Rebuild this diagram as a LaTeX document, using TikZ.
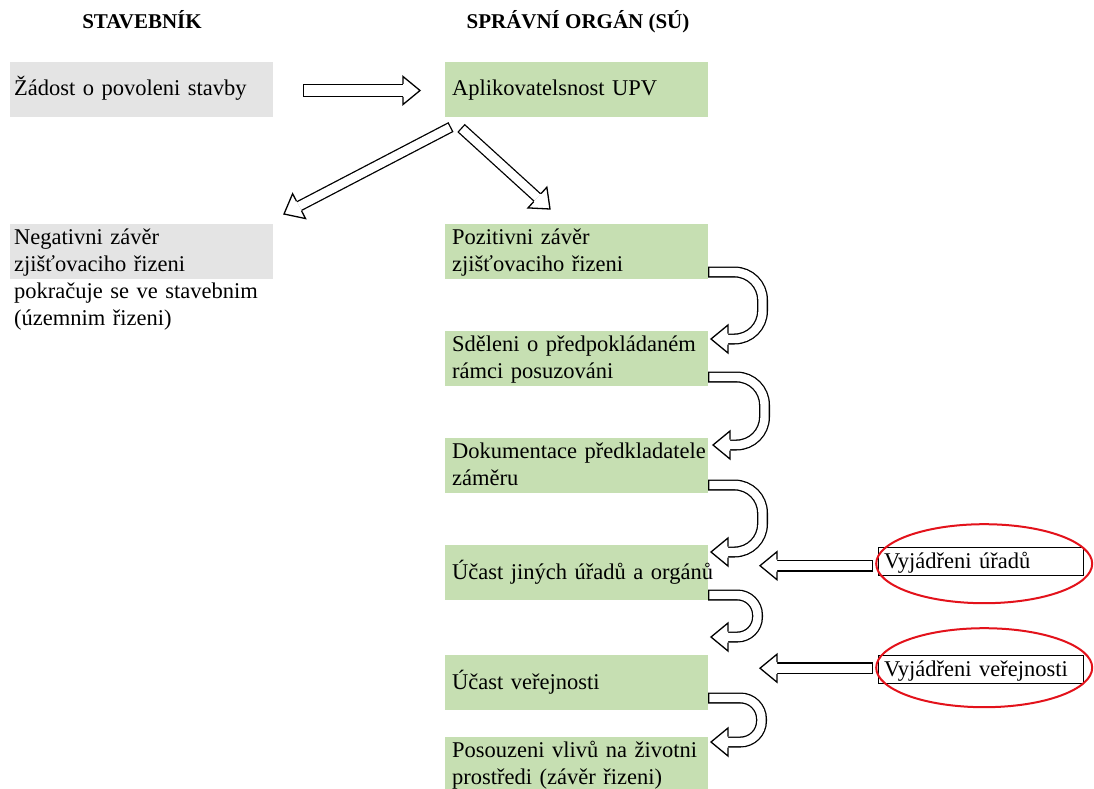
\documentclass[tikz,border=0pt]{standalone}
\usepackage{fontspec}
\setmainfont{Liberation Serif}
\usetikzlibrary{calc,shapes.geometric}

\definecolor{boxgray}{HTML}{E4E4E4}
\definecolor{boxgreen}{HTML}{C6DFB2}
\definecolor{ringred}{HTML}{E3121B}

% block arrow geometry (pt)
\newcommand\hlen{17}
\newcommand\hhw{14}

% head of a block arrow: #2 a point behind the head, #3 the tip
\newcommand\blockhead[3][5.5]{%
  \path ($(#3)!\hlen pt!(#2)$) coordinate (hb);
  \path ($(hb)!\hhw pt!90:(#3)$) coordinate (h1)
        ($(hb)!\hhw pt!-90:(#3)$) coordinate (h2)
        ($(hb)!#1pt!90:(#3)$) coordinate (s1)
        ($(hb)!#1pt!-90:(#3)$) coordinate (s2);
  \fill[white] (h1) -- (#3) -- (h2) -- cycle;
  \draw[outline] (s1) -- (h1) -- (#3) -- (h2) -- (s2);
}

% straight block arrow from #2 to #3, optional half shaft width #1
\newcommand\straightarrow[3][5.5]{%
  \path ($(#3)!\hlen pt!(#2)$) coordinate (se);
  \draw[outline, line width=2*#1pt, line cap=butt] (#2) -- (se);
  \draw[white, line width=2*#1pt-2.6pt, shorten <=1.3pt] (#2) -- (se);
  \blockhead[#1]{#2}{#3}
}

% U-turn block arrow: start #1, tip #2, turning line x from #3, corner radius #4
\newcommand\uturn[4]{%
  \coordinate (ue) at ($(#2)+(\hlen,0)$);
  \draw[outline, line width=11pt, rounded corners=#4]
    (#1) -- (#1 -| #3) -- (#2 -| #3) -- (ue);
  \draw[white, line width=8.4pt, rounded corners=#4, shorten <=1.3pt]
    (#1) -- (#1 -| #3) -- (#2 -| #3) -- (ue);
  \blockhead{ue}{#2}
}

\tikzset{
  outline/.style={draw=black, line width=1.3pt},
  box/.style={anchor=north west, minimum width=263pt, minimum height=55pt,
    inner sep=0pt, outer sep=0pt},
  graybox/.style={box, fill=boxgray},
  greenbox/.style={box, fill=boxgreen},
  txt/.style={anchor=base west, inner sep=0pt, align=left, text width=300pt,
    font=\fontsize{22.5}{27}\selectfont},
  head/.style={anchor=base, inner sep=0pt, font=\bfseries\fontsize{21}{25}\selectfont},
  notebox/.style={draw=black, line width=1.4pt, anchor=north west,
    minimum width=205pt, minimum height=28pt, inner sep=0pt},
  ring/.style={draw=ringred, line width=2pt, ellipse, inner sep=0pt,
    minimum width=216pt, minimum height=79pt},
}

\begin{document}
\begin{tikzpicture}[x=1pt, y=-1pt]
  \fill[white] (0,0) rectangle (1094,789);
  \useasboundingbox (0,0) rectangle (1094,789);

  % column headings
  \node[head] (hStav) at (142,29) {STAVEBNÍK};
  \node[head] (hSpr)  at (578,29) {SPRÁVNÍ ORGÁN (SÚ)};

  % applicant column
  \node[graybox] (zadost) at (10,62) {};
  \node[txt] (zadostT) at ($(zadost.north west)+(4,34)$) {Žádost o povoleni stavby};
  \node[graybox] (negat) at (10,224) {};
  \node[txt] (negatT) at ($(negat.north west)+(4,20)$)
    {Negativni závěr\\zjišťovaciho řizeni\\pokračuje se ve stavebnim\\(územnim řizeni)};

  % authority column
  \node[greenbox] (aplik) at (445,62) {};
  \node[txt] (aplikT) at ($(aplik.north west)+(7,34)$) {Aplikovatelsnost UPV};
  \node[greenbox] (pozit) at (445,224) {};
  \node[txt] (pozitT) at ($(pozit.north west)+(7,20)$) {Pozitivni závěr\\zjišťovaciho řizeni};
  \node[greenbox] (sdel) at (445,331) {};
  \node[txt] (sdelT) at ($(sdel.north west)+(7,20)$) {Sděleni o předpokládaném\\rámci posuzováni};
  \node[greenbox] (doku) at (445,438) {};
  \node[txt] (dokuT) at ($(doku.north west)+(7,20)$) {Dokumentace předkladatele\\záměru};
  \node[greenbox] (ucjin) at (445,545) {};
  \node[txt] (ucjinT) at ($(ucjin.north west)+(7,34)$) {Účast jiných úřadů a orgánů};
  \node[greenbox] (ucver) at (445,655) {};
  \node[txt] (ucverT) at ($(ucver.north west)+(7,34)$) {Účast veřejnosti};
  \node[greenbox] (posou) at (445,737) {};
  \node[txt] (posouT) at ($(posou.north west)+(7,20)$) {Posouzeni vlivů na životni\\prostředi (závěr řizeni)};

  % statements from outside
  \node[notebox] (vur) at (878,547) {};
  \node[txt] (vurT) at ($(vur.north west)+(6,21)$) {Vyjádřeni úřadů};
  \node[notebox] (vver) at (878,655) {};
  \node[txt] (vverT) at ($(vver.north west)+(6,21)$) {Vyjádřeni veřejnosti};
  \node[ring] (ring1) at ($(vur.center)+(3,2)$) {};
  \node[ring] (ring2) at ($(vver.center)+(3,-2)$) {};

  % request -> applicability
  \coordinate (hzT) at ($(zadost.east)+(30,1)$);
  \coordinate (hzH) at ($(aplik.west)+(-25,1)$);
  \straightarrow[6.5]{hzT}{hzH}

  % applicability -> negative / positive outcome
  \coordinate (dlT) at ($(aplik.south west)+(6,10)$);
  \coordinate (dlH) at ($(negat.north east)+(11,-10)$);
  \straightarrow[5.5]{dlT}{dlH}
  \coordinate (drT) at ($(aplik.south west)+(16,11)$);
  \coordinate (drH) at ($(pozit.north west)+(105,-15)$);
  \straightarrow[5.5]{drT}{drH}

  % procedure steps
  \coordinate (u1s) at ($(pozit.north east)+(0,48)$);
  \coordinate (u1t) at ($(sdel.north east)+(3,8)$);
  \coordinate (u1r) at ($(pozit.east)+(54.5,0)$);
  \uturn{u1s}{u1t}{u1r}{28pt}
  \coordinate (u2s) at ($(sdel.north east)+(0,46)$);
  \coordinate (u2t) at ($(doku.north east)+(5,7)$);
  \coordinate (u2r) at ($(sdel.east)+(56.5,0)$);
  \uturn{u2s}{u2t}{u2r}{28pt}
  \coordinate (u3s) at ($(doku.north east)+(0,47)$);
  \coordinate (u3t) at ($(ucjin.north east)+(3,7)$);
  \coordinate (u3r) at ($(doku.east)+(54.5,0)$);
  \uturn{u3s}{u3t}{u3r}{28pt}
  \coordinate (u4s) at ($(ucjin.north east)+(0,50)$);
  \coordinate (u4t) at ($(ucver.north east)+(3,-18)$);
  \coordinate (u4r) at ($(ucjin.east)+(49.5,0)$);
  \uturn{u4s}{u4t}{u4r}{20pt}
  \coordinate (u5s) at ($(ucver.north east)+(0,43)$);
  \coordinate (u5t) at ($(posou.north east)+(3,5)$);
  \coordinate (u5r) at ($(ucver.east)+(53.5,0)$);
  \uturn{u5s}{u5t}{u5r}{21pt}

  % statements -> procedure
  \coordinate (la1T) at ($(vur.west)+(-5,4)$);
  \coordinate (la1H) at ($(vur.west)+(-118,4)$);
  \straightarrow[6]{la1T}{la1H}
  \coordinate (la2T) at ($(vver.west)+(-5,-1.5)$);
  \coordinate (la2H) at ($(vver.west)+(-118,-1.5)$);
  \straightarrow[6]{la2T}{la2H}
\end{tikzpicture}
\end{document}
